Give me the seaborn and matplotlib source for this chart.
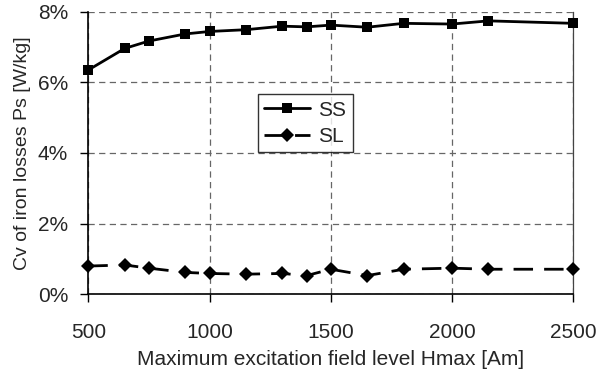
import pandas as pd
import seaborn as sns
import numpy as np
import matplotlib.pyplot as plt
from matplotlib.ticker import FuncFormatter

hmax = [500, 650, 750, 900, 1000, 1150, 1300, 1400, 1500, 1650, 1800, 2000, 2150, 2500]
cv_ss = [6.35, 6.96, 7.17, 7.37, 7.44, 7.49, 7.59, 7.57, 7.62, 7.56, 7.67, 7.65, 7.74, 7.67]
cv_sl = [0.80, 0.83, 0.74, 0.62, 0.59, 0.57, 0.59, 0.53, 0.71, 0.53, 0.71, 0.74, 0.71, 0.71]

datos = pd.DataFrame({
    'Hmax': hmax * 2,
    'Cv': cv_ss + cv_sl,
    'Serie': ['SS'] * len(hmax) + ['SL'] * len(hmax),
})

sns.set_style('white')
plt.rcParams['font.family'] = ['Liberation Sans', 'DejaVu Sans']

fig = plt.figure(figsize=(6.01, 3.78), dpi=100)
ax = fig.add_axes([0.147, 0.2214, 0.807, 0.7477])

# SS: linea continua con cuadrados, SL: discontinua con rombos
sns.lineplot(data=datos, x='Hmax', y='Cv', hue='Serie', style='Serie',
             palette={'SS': 'black', 'SL': 'black'},
             markers={'SS': 's', 'SL': 'D'},
             dashes={'SS': '', 'SL': (7, 4)},
             markersize=7, linewidth=2, markeredgewidth=0,
             clip_on=False, ax=ax, zorder=5)
for ln in ax.lines:
    if ln.get_marker() == 'D':
        ln.set_markersize(7.5)

ax.set_xlim(500, 2500)
ax.set_ylim(0, 8)
ax.set_xticks([500, 1000, 1500, 2000, 2500])
ax.set_yticks([0, 2, 4, 6, 8])
ax.yaxis.set_major_formatter(FuncFormatter(lambda v, p: f'{v:.0f}%'))

ax.grid(True, color='#666666', linestyle=(0, (5, 3.5)), linewidth=0.9)
ax.spines['top'].set_visible(False)
ax.spines['right'].set_color('#444444')
ax.spines['right'].set_linewidth(0.9)
for s in ['left', 'bottom']:
    ax.spines[s].set_color('black')
    ax.spines[s].set_linewidth(1.2)

ax.tick_params(axis='both', which='major', length=6, width=1, color='black',
               labelsize=15, direction='out', bottom=True, left=True)
ax.tick_params(axis='x', pad=14.5)
ax.tick_params(axis='y', pad=8.5)

ax.set_xlabel('Maximum excitation field level Hmax [Am]', fontsize=15, labelpad=6)
ax.set_ylabel('Cv of iron losses Ps [W/kg]', fontsize=14, labelpad=5)

leg = ax.legend(loc='lower left', bbox_to_anchor=(0.35, 0.503, 0.195, 0.222),
                mode='expand', fontsize=15, frameon=True, fancybox=False,
                edgecolor='black', handlelength=2.2, handletextpad=0.4,
                borderpad=0.3, labelspacing=0.35, borderaxespad=0)
leg.get_frame().set_linewidth(1)
leg.set_zorder(10)

plt.savefig('out.png', dpi=100)
plt.close()
